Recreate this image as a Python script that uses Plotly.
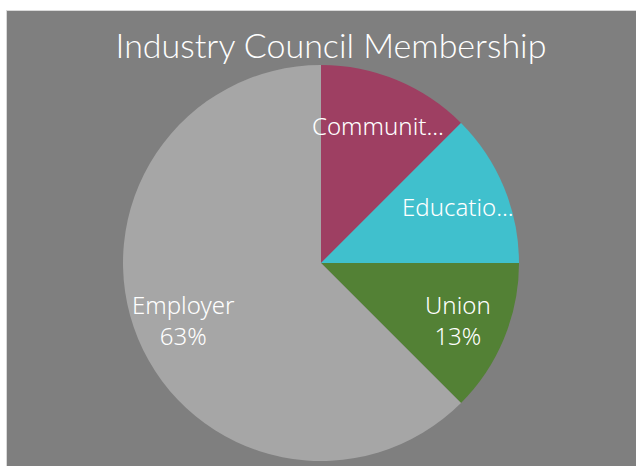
import math
import plotly.graph_objects as go

# Council membership by sector
sectors = ["Community", "Education", "Union", "Employer"]
members = [1, 1, 1, 5]
slice_colors = ["#9E3F62", "#40C0CD", "#538135", "#A6A6A6"]
# labels too long for their slice are cut short; the rest also show their share
short_names = ["Communit...", "Educatio...", "Union", "Employer"]
show_share = [False, False, True, True]

W, H = 636, 466
cx, cy, r = 321, 263, 198
label_radius = 0.75

fig = go.Figure(go.Pie(
    labels=sectors,
    values=members,
    sort=False,
    direction="clockwise",
    rotation=0,
    marker=dict(colors=slice_colors, line=dict(width=0)),
    textinfo="none",
    showlegend=False,
    hoverinfo="label+percent",
    domain=dict(x=[(cx - r) / W, (cx + r) / W],
                y=[(H - cy - r) / H, (H - cy + r) / H]),
))

# data labels at each slice's middle angle
total = sum(members)
annotations = []
start = 0.0
for name, v, share in zip(short_names, members, show_share):
    frac = v / total
    mid = 2 * math.pi * (start + frac / 2)
    start += frac
    px = cx + label_radius * r * math.sin(mid)
    py = cy - label_radius * r * math.cos(mid)
    txt = name
    if share:
        txt += "<br>%d%%" % math.floor(frac * 100 + 0.5)
    annotations.append(dict(
        x=px / W, y=1 - py / H, xref="paper", yref="paper",
        text=txt, showarrow=False, xanchor="center", yanchor="middle",
        font=dict(family="Noto Sans", size=24, color="white", weight=300),
    ))

fig.update_layout(
    width=W, height=H,
    margin=dict(l=0, r=0, t=0, b=0),
    paper_bgcolor="white",
    plot_bgcolor="white",
    title=dict(text="Industry Council Membership", x=331 / W, xanchor="center",
               y=1 - 46 / H, yanchor="middle",
               font=dict(family="Lato", size=34, color="white", weight=300)),
    annotations=annotations,
    shapes=[dict(type="rect", xref="paper", yref="paper",
                 x0=6.5 / W, x1=1.2, y0=-0.2, y1=1 - 10.5 / H,
                 fillcolor="#7F7F7F", line=dict(color="#D9D9D9", width=1),
                 layer="below")],
)

fig.write_html("out.html")
